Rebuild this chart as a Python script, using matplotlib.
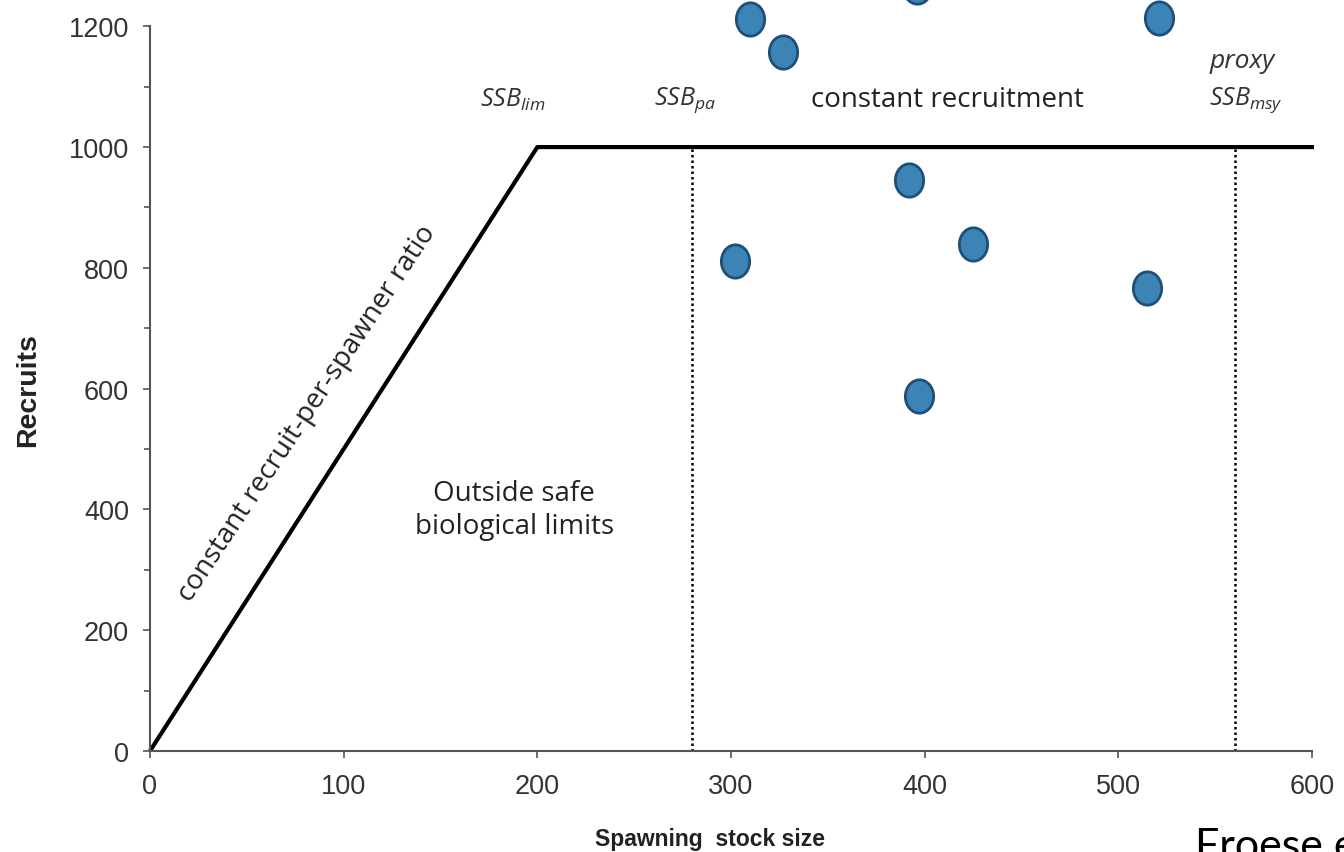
import numpy as np
import matplotlib
matplotlib.use("Agg")
import matplotlib.pyplot as plt
from matplotlib.path import Path
from matplotlib.transforms import Affine2D

# ===== 데이터 =====
# 하키스틱형 재생산 관계
hs_x = [0, 200, 601]
hs_y = [0, 1000, 1000]

# 관측점 (산란 자원량, 가입량)
ssb_obs = [310, 327, 396, 521, 392, 425, 302, 515, 397]
rec_obs = [1212, 1157, 1265, 1213, 945, 839, 811, 766, 588]

# 기준점
ssb_pa = 280
ssb_msy = 560

x_ticks = [0, 100, 200, 300, 400, 500, 600]
y_ticks = [0, 200, 400, 600, 800, 1000, 1200]

plt.rcParams['mathtext.fontset'] = 'custom'
plt.rcParams['mathtext.it'] = 'Open Sans:italic'
plt.rcParams['mathtext.rm'] = 'Open Sans'

ANNOT = ['Open Sans', 'DejaVu Sans']
TICKF = ['Liberation Sans', 'DejaVu Sans']

fig = plt.figure(figsize=(13.44, 8.53), dpi=100)
ax = fig.add_axes([0.1116, 0.1184, 0.8646, 0.8496])

# 세로 점선 (기준점)
ax.plot([ssb_pa, ssb_pa], [0, 1000], color='black', lw=1.8, ls=(0, (1, 1.2)))
ax.plot([ssb_msy, ssb_msy], [0, 1000], color='black', lw=1.8, ls=(0, (1, 1.2)))

# 하키스틱 선
ax.plot(hs_x, hs_y, color='black', lw=3.0, solid_capstyle='butt', clip_on=False)

# 타원형 마커
ell = Path.unit_circle().transformed(Affine2D().scale(0.85, 1.0))
ax.plot(ssb_obs, rec_obs, ls='none', marker=ell, markersize=24,
        markerfacecolor='#3C84B6', markeredgecolor='#1E4F78',
        markeredgewidth=2, clip_on=False, zorder=5)

ax.set_xlim(0, 600)
ax.set_ylim(0, 1200)
ax.set_xticks(x_ticks)
ax.set_yticks(y_ticks)
ax.set_yticks(np.arange(100, 1200, 200), minor=True)
ax.tick_params(axis='both', direction='out', length=5, width=1.2,
               color='#555555', labelsize=19.5, labelcolor='#333333')
ax.tick_params(axis='x', pad=11)
ax.tick_params(axis='y', pad=10)
ax.tick_params(axis='y', which='minor', length=4, width=1.2, color='#555555')
for lab in ax.get_xticklabels() + ax.get_yticklabels():
    lab.set_family(TICKF)

ax.spines['top'].set_visible(False)
ax.spines['right'].set_visible(False)
ax.spines['left'].set_color('#555555')
ax.spines['bottom'].set_color('#555555')
ax.spines['left'].set_linewidth(1.5)
ax.spines['bottom'].set_linewidth(1.5)

ax.set_xlabel('Spawning  stock size', fontsize=16.5, fontweight='bold',
              family=TICKF, color='#222222')
ax.xaxis.set_label_coords(0.482, -0.105)
ax.set_ylabel('Recruits', fontsize=20.5, fontweight='bold',
              family=TICKF, color='#222222', labelpad=20)

# 주석
ax.text(187, 1079, r'$\mathit{SSB}_{\mathit{lim}}$', fontsize=18,
        ha='center', va='center', color='#333333')
ax.text(276, 1079, r'$\mathit{SSB}_{\mathit{pa}}$', fontsize=18,
        ha='center', va='center', color='#333333')
ax.text(412, 1079, 'constant recruitment', fontsize=20, family=ANNOT,
        ha='center', va='center', color='#222222')
ax.text(564, 1143, 'proxy', fontsize=19, family=ANNOT, style='italic',
        ha='center', va='center', color='#333333')
ax.text(566, 1079, r'$\mathit{SSB}_{\mathit{msy}}$', fontsize=18,
        ha='center', va='center', color='#333333')
ax.text(81, 561, 'constant recruit-per-spawner ratio', fontsize=20,
        family=ANNOT, rotation=56.5, rotation_mode='anchor',
        ha='center', va='center', color='#222222')
ax.text(188, 400, 'Outside safe\nbiological limits', fontsize=20,
        family=ANNOT, ha='center', va='center', linespacing=1.25,
        color='#222222')

fig.text(1195 / 1344, 1 - 828 / 853, 'Froese et al.', fontsize=31,
         family=['Lato', 'DejaVu Sans'], ha='left', va='top', color='black')

fig.savefig('out.png', dpi=100)
